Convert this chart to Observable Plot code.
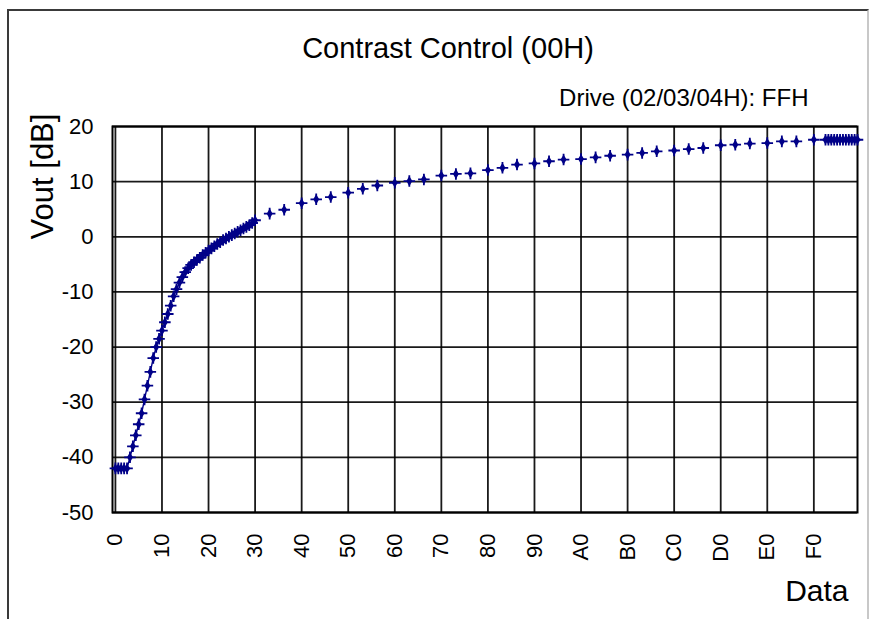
<!DOCTYPE html>
<html><head><meta charset="utf-8">
<script src="https://cdn.jsdelivr.net/npm/d3@7"></script>
<script src="https://cdn.jsdelivr.net/npm/@observablehq/plot@0.6"></script>
<style>
body{margin:0;background:#fff;}
#wrap{position:relative;width:873px;height:619px;overflow:hidden;background:#fff;}
#border{position:absolute;left:7px;top:9px;width:862px;height:720px;border:2px solid #3a3a3a;border-right-color:#c8c8c8;box-sizing:border-box;}
#chart{position:absolute;left:0;top:0;}
</style></head><body>
<div id="wrap"><div id="border"></div><div id="chart"></div></div>
<script>
// Contrast control data (x = register value, y = Vout in dB)
const denseX = [0,1,2,3,4,5,6,7,8,9,10,11,12,13,14,15,16,17,18,19,20,21,22,23,24,25,26,27,28,29,30,31,32,33,34,35,36,37,38,39,40,41,42,43,44,45,46,47,48];
const denseY = [-42,-42,-42,-42,-42,-40,-38,-36,-34,-32,-29.5,-27,-24.5,-22,-20,-18.5,-17,-15.5,-14,-12.5,-10.8,-9.5,-8.3,-7.3,-6.4,-5.7,-5.1,-4.6,-4.2,-3.8,-3.3,-2.9,-2.5,-2.1,-1.7,-1.3,-1.0,-0.6,-0.3,0,0.3,0.6,0.9,1.2,1.5,1.8,2.1,2.5,3.0];
const sparseX = [53,58,64,69,74,80,85,90,96,101,106,112,117,122,128,133,138,144,149,154,160,165,170,176,181,186,192,197,202,208,213,218,224,229,234,240,244,245,246,247,248,249,250,251,252,253,254,255];
const sparseY = [4.2,4.9,6.1,6.8,7.2,8.0,8.7,9.3,9.8,10.1,10.4,11.1,11.4,11.5,12.1,12.5,13.1,13.3,13.7,14.0,14.1,14.4,14.7,14.9,15.2,15.5,15.65,15.9,16.1,16.6,16.7,16.9,17.0,17.3,17.3,17.6,17.6,17.6,17.6,17.6,17.6,17.6,17.6,17.6,17.6,17.6,17.6,17.6];
const xTicks = [0,16,32,48,64,80,96,112,128,144,160,176,192,208,224,240];
const xTickLabels = ["0","10","20","30","40","50","60","70","80","90","A0","B0","C0","D0","E0","F0"];
const yTicks = [-50,-40,-30,-20,-10,0,10,20];
const yTickLabels = ["-50","-40","-30","-20","-10","0","10","20"];

const title = "Contrast Control (00H)";
const subtitle = "Drive (02/03/04H): FFH";
const xLabel = "Data";
const yLabel = "Vout [dB]";

const dense = denseX.map((x, i) => ({x, y: denseY[i]}));
const sparse = sparseX.map((x, i) => ({x, y: sparseY[i]}));
const all = dense.concat(sparse);
const navy = "#000088";

const chart = Plot.plot({
  width: 873,
  height: 619,
  marginTop: 126,
  marginRight: 16,
  marginBottom: 107,
  marginLeft: 112,
  style: {fontFamily: "'Liberation Sans', Arial, sans-serif", fontSize: "22px", color: "#000", background: "transparent"},
  x: {domain: [-1, 255]},
  y: {domain: [-50, 20]},
  marks: [
    Plot.gridX(xTicks, {stroke: "#000", strokeOpacity: 0.9, strokeWidth: 1.8}),
    Plot.gridY(yTicks, {stroke: "#000", strokeOpacity: 0.9, strokeWidth: 1.8}),
    Plot.frame({stroke: "#000", strokeWidth: 2}),
    Plot.axisX({ticks: xTicks, tickSize: 0, tickPadding: 21, tickRotate: -90, fontSize: 22,
      tickFormat: d => xTickLabels[xTicks.indexOf(d)], label: null}),
    Plot.axisY({ticks: yTicks, tickSize: 0, tickPadding: 19, fontSize: 22,
      tickFormat: d => yTickLabels[yTicks.indexOf(d)], label: null}),
    Plot.line(dense, {x: "x", y: "y", stroke: navy, strokeWidth: 1.4}),
    Plot.dot(all, {x: "x", y: "y", symbol: "diamond", r: 3.1, fill: navy, stroke: "none"}),
    Plot.dot(all, {x: "x", y: "y", symbol: "plus", r: 3.8, stroke: navy, strokeWidth: 1.8, fill: "none"}),
    Plot.text([title], {frameAnchor: "top", dx: -37, dy: -78, fontSize: 29, lineAnchor: "middle", textAnchor: "middle"}),
    Plot.text([subtitle], {frameAnchor: "top-right", dx: -49, dy: -28, fontSize: 24, lineAnchor: "middle", textAnchor: "end"}),
    Plot.text([xLabel], {frameAnchor: "bottom-right", dx: -9, dy: 79, fontSize: 30, lineAnchor: "middle", textAnchor: "end"}),
    Plot.text([yLabel], {frameAnchor: "top-left", dx: -69, dy: 50, fontSize: 31, rotate: -90, lineAnchor: "middle", textAnchor: "middle"})
  ]
});
document.getElementById("chart").appendChild(chart);
</script>
</body></html>
